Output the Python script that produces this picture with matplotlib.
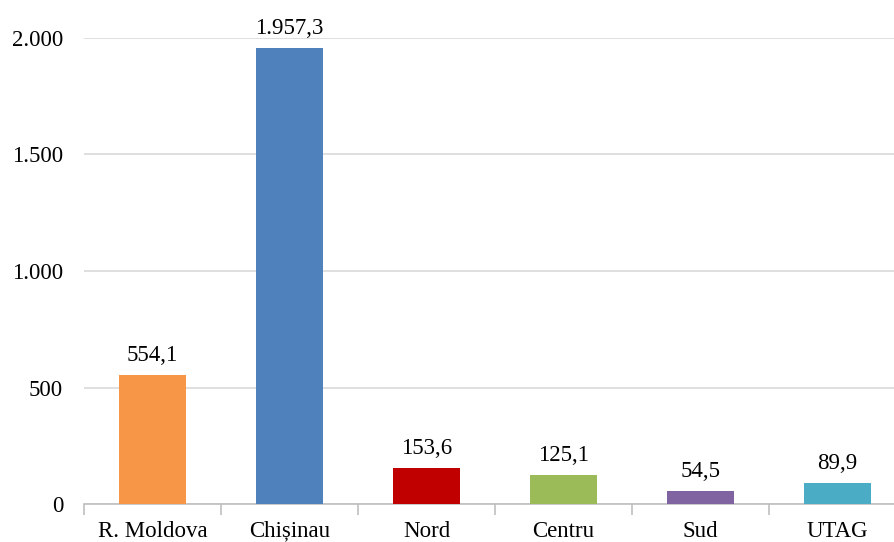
import matplotlib
matplotlib.use("Agg")
from matplotlib import pyplot as plt
from matplotlib.ticker import FuncFormatter

plt.rcParams["font.family"] = ["Liberation Serif", "DejaVu Serif"]
plt.rcParams["font.size"] = 16.5

# date
regiuni = ["R. Moldova", "Chișinau", "Nord", "Centru", "Sud", "UTAG"]
valori = [554.1, 1957.3, 153.6, 125.1, 54.5, 89.9]
culori = ["#F79646", "#4F81BD", "#C00000", "#9BBB59", "#8064A2", "#4BACC6"]


def fmt_ro(v, dec=0):
    s = f"{v:,.{dec}f}"
    return s.replace(",", "X").replace(".", ",").replace("X", ".")


fig = plt.figure(figsize=(8.95, 5.42), dpi=100)
ax = fig.add_axes([84 / 895, 38 / 542, 822 / 895, 466 / 542])

x = range(len(regiuni))
bars = ax.bar(x, valori, width=0.49, color=culori, zorder=3)

for b, v in zip(bars, valori):
    ax.text(b.get_x() + b.get_width() / 2, v + 40, fmt_ro(v, 1),
            ha="center", va="bottom")

ax.set_xlim(-0.5, len(regiuni) - 0.5)
ax.set_ylim(0, 2000)
ax.set_yticks([0, 500, 1000, 1500, 2000])
ax.yaxis.set_major_formatter(FuncFormatter(lambda v, p: fmt_ro(v)))
ax.grid(axis="y", color="#D9D9D9", linewidth=1.2, zorder=0)

ax.set_xticks(list(x))
ax.set_xticklabels(regiuni)
for lbl in ax.get_xticklabels():
    lbl.set_verticalalignment("baseline")
ax.set_xticks([i - 0.5 for i in range(len(regiuni) + 1)], minor=True)
ax.tick_params(axis="x", which="major", length=0, pad=23.5)
ax.tick_params(axis="x", which="minor", length=8, color="#BFBFBF", width=1.2)
ax.tick_params(axis="y", length=0, pad=15)

for s in ["top", "right", "left"]:
    ax.spines[s].set_visible(False)
ax.spines["bottom"].set_color("#BFBFBF")
ax.spines["bottom"].set_linewidth(1.2)

fig.savefig("out.png", dpi=100)
